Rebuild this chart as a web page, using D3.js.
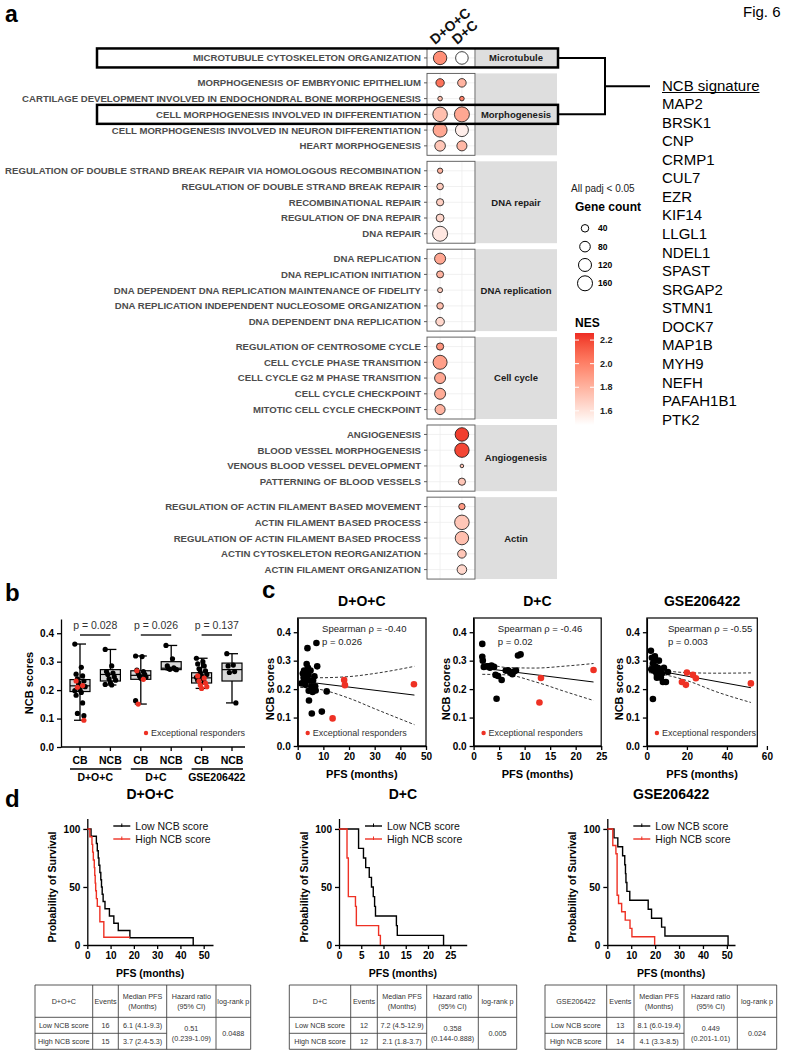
<!DOCTYPE html>
<html>
<head>
<meta charset="utf-8">
<script src="https://cdn.jsdelivr.net/npm/d3@7"></script>
<style>
  body { margin: 0; background: #fff; }
  svg text { font-family: "Liberation Sans", Arial, Helvetica, sans-serif; }
</style>
</head>
<body>
<svg id="fig" width="787" height="1050"></svg>
<script>
// ---------------- panel a data ----------------
const groups = ["D+O+C", "D+C"];
const clusters = ["Microtubule", "Morphogenesis", "DNA repair", "DNA replication", "Cell cycle", "Angiogenesis", "Actin"];
const termNames = [
  "MICROTUBULE CYTOSKELETON ORGANIZATION",
  "MORPHOGENESIS OF EMBRYONIC EPITHELIUM",
  "CARTILAGE DEVELOPMENT INVOLVED IN ENDOCHONDRAL BONE MORPHOGENESIS",
  "CELL MORPHOGENESIS INVOLVED IN DIFFERENTIATION",
  "CELL MORPHOGENESIS INVOLVED IN NEURON DIFFERENTIATION",
  "HEART MORPHOGENESIS",
  "REGULATION OF DOUBLE STRAND BREAK REPAIR VIA HOMOLOGOUS RECOMBINATION",
  "REGULATION OF DOUBLE STRAND BREAK REPAIR",
  "RECOMBINATIONAL REPAIR",
  "REGULATION OF DNA REPAIR",
  "DNA REPAIR",
  "DNA REPLICATION",
  "DNA REPLICATION INITIATION",
  "DNA DEPENDENT DNA REPLICATION MAINTENANCE OF FIDELITY",
  "DNA REPLICATION INDEPENDENT NUCLEOSOME ORGANIZATION",
  "DNA DEPENDENT DNA REPLICATION",
  "REGULATION OF CENTROSOME CYCLE",
  "CELL CYCLE PHASE TRANSITION",
  "CELL CYCLE G2 M PHASE TRANSITION",
  "CELL CYCLE CHECKPOINT",
  "MITOTIC CELL CYCLE CHECKPOINT",
  "ANGIOGENESIS",
  "BLOOD VESSEL MORPHOGENESIS",
  "VENOUS BLOOD VESSEL DEVELOPMENT",
  "PATTERNING OF BLOOD VESSELS",
  "REGULATION OF ACTIN FILAMENT BASED MOVEMENT",
  "ACTIN FILAMENT BASED PROCESS",
  "REGULATION OF ACTIN FILAMENT BASED PROCESS",
  "ACTIN CYTOSKELETON REORGANIZATION",
  "ACTIN FILAMENT ORGANIZATION"
];
const termCluster = [0, 1,1,1,1,1, 2,2,2,2,2, 3,3,3,3,3, 4,4,4,4,4, 5,5,5,5, 6,6,6,6,6];
const nesDOC = [1.95, 2.05,1.75,1.75,1.85,1.72, 1.8,1.7,1.68,1.65,1.58, 1.85,1.8,1.7,1.75,1.65, 1.92,1.88,1.85,1.83,1.8,
  null,null,null,null, null,null,null,null,null];
const countDOC = [128, 50,15,150,140,80, 20,31,37,45,160, 86,35,18,31,52, 37,140,86,86,72,
  null,null,null,null, null,null,null,null,null];
const nesDC = [1.48, 1.8,2.0,1.85,1.55,1.78, null,null,null,null,null, null,null,null,null,null, null,null,null,null,null,
  2.22,2.2,1.75,1.72, 1.9,1.72,1.75,1.72,1.65];
const countDC = [113, 52,15,160,120,72, null,null,null,null,null, null,null,null,null,null, null,null,null,null,null,
  131,147,9,37, 29,150,128,52,65];
const highlighted = ["MICROTUBULE CYTOSKELETON ORGANIZATION", "CELL MORPHOGENESIS INVOLVED IN DIFFERENTIATION"];
const sizeBreaks = [40, 80, 120, 160];
const nesBreaks = [1.6, 1.8, 2.0, 2.2];
const nesRange = [1.48, 2.26];
const ncbGenes = ["MAP2","BRSK1","CNP","CRMP1","CUL7","EZR","KIF14","LLGL1","NDEL1","SPAST","SRGAP2",
  "STMN1","DOCK7","MAP1B","MYH9","NEFH","PAFAH1B1","PTK2"];

// ---------------- panel b data ----------------
const boxLabels = ["CB","NCB","CB","NCB","CB","NCB"];
const boxGroups = ["D+O+C","D+C","GSE206422"];
const boxMin = [0.094, 0.218, 0.151, 0.272, 0.206, 0.155];
const boxQ1  = [0.195, 0.232, 0.238, 0.272, 0.225, 0.232];
const boxMed = [0.215, 0.255, 0.252, 0.277, 0.243, 0.272];
const boxQ3  = [0.237, 0.272, 0.268, 0.300, 0.261, 0.295];
const boxMax = [0.362, 0.343, 0.320, 0.357, 0.312, 0.328];
const boxBlack = [
  [0.362,0.28,0.256,0.25,0.24,0.232,0.22,0.212,0.204,0.198,0.192,0.182,0.155,0.118,0.11,0.226],
  [0.343,0.285,0.265,0.26,0.255,0.247,0.24,0.235,0.226,0.22,0.218],
  [0.32,0.318,0.27,0.265,0.26,0.255,0.25,0.246,0.242,0.163],
  [0.357,0.31,0.285,0.278,0.276,0.274,0.273,0.272],
  [0.312,0.3,0.292,0.285,0.275,0.268,0.262,0.255,0.25,0.245,0.24,0.235,0.228],
  [0.328,0.288,0.285,0.265,0.262,0.155]
];
const boxRed = [[0.232,0.216,0.21,0.094], [], [0.268,0.238,0.151], [], [0.25,0.242,0.232,0.225,0.218,0.212,0.206], []];
const boxP = ["p = 0.028", "p = 0.026", "p = 0.137"];

// ---------------- panel c data ----------------
const scatterNames = ["D+O+C", "D+C", "GSE206422"];
const scatterRho = ["Spearman \u03c1 = -0.40", "Spearman \u03c1 = -0.46", "Spearman \u03c1 = -0.55"];
const scatterP = ["p = 0.026", "p = 0.02", "p = 0.003"];
const scatterXMax = [50, 25, 55.2];
const scatterXTicks = [[0,10,20,30,40,50], [0,5,10,15,20,25], [0,20,40,60]];
const docBlack = [[1.5,0.22],[2,0.255],[2.3,0.24],[2.5,0.265],[2.8,0.232],[3,0.215],[3.3,0.26],[3.5,0.288],[3.8,0.344],
  [4,0.275],[4.2,0.25],[4.3,0.194],[4.4,0.16],[4.6,0.23],[5,0.265],[5.3,0.21],[5.5,0.114],[5.8,0.19],[6,0.23],
  [6.3,0.2],[6.8,0.21],[7,0.195],[7.3,0.362],[7.6,0.28],[9.4,0.121],[11.3,0.192],[6.5,0.245]];
const docRed = [[13.6,0.097],[18.1,0.232],[18.4,0.214],[45.3,0.217]];
const dcBlack = [[1.7,0.359],[1.7,0.314],[1.8,0.3],[2,0.278],[2.5,0.28],[3,0.28],[3.5,0.283],[4,0.278],[4.3,0.25],
  [4.5,0.166],[4.8,0.246],[5.5,0.232],[6.3,0.265],[6.8,0.265],[7.2,0.258],[7.6,0.252],[7.9,0.262],[8.3,0.265],
  [8.7,0.318],[9.2,0.322],[3.2,0.275]];
const dcRed = [[12.9,0.153],[13.2,0.239],[23.5,0.267]];
const gseBlack = [[2,0.335],[2.2,0.27],[2.5,0.31],[3,0.165],[3,0.29],[3.3,0.265],[3.6,0.3],[4,0.315],[4.2,0.28],
  [4.5,0.26],[5,0.25],[5,0.24],[5.5,0.275],[6,0.3],[6.5,0.265],[7,0.24],[7.5,0.255],[8,0.225],[8.5,0.275],
  [9.5,0.225],[10.5,0.26]];
const gseRed = [[17.5,0.225],[19.5,0.215],[20,0.258],[23,0.25],[24.5,0.238],[52,0.22]];
const scatterFit = [[[1,0.228],[45.5,0.179]], [[1.7,0.274],[23.5,0.225]], [[1,0.27],[52,0.205]]];
const scatterCI = [
  [[1,0.206,0.25],[8,0.2,0.24],[20,0.168,0.244],[30,0.131,0.255],[45.5,0.075,0.28]],
  [[1.7,0.252,0.296],[6.5,0.25,0.276],[12,0.226,0.274],[18,0.191,0.281],[23.5,0.16,0.29]],
  [[1,0.258,0.282],[9,0.25,0.266],[20,0.23,0.258],[35,0.19,0.256],[52,0.153,0.257]]
];

// ---------------- panel d data ----------------
const kmNames = ["D+O+C", "D+C", "GSE206422"];
const kmXMax = [54, 28.7, 53.4];
const kmXTicks = [[0,10,20,30,40,50], [0,5,10,15,20,25], [0,10,20,30,40,50]];
const kmLow = [
  [[0,100],[1.6,93.75],[3.9,87.5],[4.3,81.25],[4.7,75],[5,68.75],[5.4,62.5],[5.8,56.25],[6.1,50],[6.4,43.75],
   [6.8,37.5],[7.6,31.25],[9.5,25],[11.4,18.75],[13.3,12.5],[18.3,6.25],[45.5,0]],
  [[0,100],[4.4,83.3],[5.5,75],[6,66.7],[6.8,58.3],[7.3,50],[7.7,41.7],[8,33.3],[8.2,25],[12.9,16.7],[13.1,8.3],[23.5,0]],
  [[0,100],[2.8,92.3],[4.4,84.6],[6.4,76.9],[7.3,69.2],[7.6,61.5],[7.8,53.8],[8.2,46.2],[9.4,38.5],[17.1,30.8],
   [18.5,23.1],[22.7,15.4],[24.1,7.7],[50.5,0]]
];
const kmHigh = [
  [[0,100],[1.1,93.3],[2,86.7],[2.3,80],[2.6,73.3],[3,66.7],[3.2,60],[3.4,53.3],[3.6,46.7],[3.9,40],[4.3,33.3],
   [5.4,20],[7.1,6.67],[18.3,6.67]],
  [[0,100],[1.8,75],[2.1,41.7],[3.7,33.3],[3.9,16.7],[8.9,8.3],[9.3,0]],
  [[0,100],[2.3,85.7],[3.6,78.6],[4.1,42.9],[4.7,35.7],[6,28.6],[7.5,21.4],[9.5,14.3],[10.3,7.1],[19.8,0]]
];
const kmSeries = ["Low NCB score", "High NCB score"];
const tblEvents = [[16, 15], [12, 12], [13, 14]];
const tblMedian = [["6.1 (4.1-9.3)", "3.7 (2.4-5.3)"], ["7.2 (4.5-12.9)", "2.1 (1.8-3.7)"], ["8.1 (6.0-19.4)", "4.1 (3.3-8.5)"]];
const tblHR = ["0.51", "0.358", "0.449"];
const tblHRci = ["(0.239-1.09)", "(0.144-0.888)", "(0.201-1.01)"];
const tblLogrank = ["0.0488", "0.005", "0.024"];

// ======================================================
const FONT = '"Liberation Sans", Arial, Helvetica, sans-serif';
const RED = "#ee3124";
const svg = d3.select("#fig");

function label(txt, x, y, size, opts = {}) {
  return svg.append("text").attr("x", x).attr("y", y).text(txt)
    .attr("font-size", size).attr("font-weight", opts.bold ? "bold" : "normal")
    .attr("text-anchor", opts.anchor || "start").attr("fill", opts.fill || "#000");
}
function styleAxis(g, size) {
  g.attr("font-family", FONT).attr("font-size", size).attr("font-weight", "bold");
  g.select(".domain").attr("stroke", "#000").attr("stroke-width", 1.3);
  g.selectAll(".tick line").attr("stroke", "#000").attr("stroke-width", 1.3);
  g.selectAll(".tick text").attr("fill", "#000");
}

// panel letters
label("a", 5, 22, 23, {bold: true});
label("b", 5, 601, 24, {bold: true});
label("c", 262, 598, 24, {bold: true});
label("d", 5, 807, 24, {bold: true});
label("Fig. 6", 743, 17, 15);

// ---------------- panel a ----------------
const unit = 15.75, facetGap = 6;
let cursor = 48.5;
const facets = clusters.map((c, ci) => {
  const terms = termNames.filter((t, i) => termCluster[i] === ci);
  const h = unit * (terms.length + 0.2);
  const f = {name: c, terms, top: cursor, bottom: cursor + h};
  f.y = d3.scalePoint().domain(terms).range([f.top, f.bottom]).padding(0.6);
  cursor += h + facetGap;
  return f;
});
const xA = d3.scalePoint().domain(groups).range([427, 475]).padding(0.6);
const rA = d3.scaleSqrt().domain([0, 160]).range([0, 7.5]);
const colA = d3.scaleLinear().domain(nesRange).range(["#ffffff", "#ee2c24"])
  .interpolate(d3.interpolateLab).clamp(true);
const yOf = t => facets[termCluster[termNames.indexOf(t)]].y(t);

const gA = svg.append("g");
facets.forEach(f => {
  gA.append("rect").attr("x", 427).attr("y", f.top).attr("width", 48).attr("height", f.bottom - f.top)
    .attr("fill", "#fff");
  groups.forEach(g => gA.append("line").attr("x1", xA(g)).attr("x2", xA(g)).attr("y1", f.top).attr("y2", f.bottom)
    .attr("stroke", "#ebebeb").attr("stroke-width", 0.7));
  f.terms.forEach(t => {
    gA.append("line").attr("x1", 427).attr("x2", 475).attr("y1", f.y(t)).attr("y2", f.y(t))
      .attr("stroke", "#ebebeb").attr("stroke-width", 0.7);
    gA.append("line").attr("x1", 424).attr("x2", 427).attr("y1", f.y(t)).attr("y2", f.y(t))
      .attr("stroke", "#333").attr("stroke-width", 0.8);
    gA.append("text").attr("x", 421).attr("y", f.y(t) + 3.4).attr("text-anchor", "end")
      .attr("font-size", 9.6).attr("font-weight", "bold").attr("fill", "#4d4d4d").text(t);
  });
  gA.append("rect").attr("x", 475.5).attr("y", f.top).attr("width", 81.5).attr("height", f.bottom - f.top)
    .attr("fill", "#dedede");
  gA.append("text").attr("x", 516).attr("y", (f.top + f.bottom) / 2 + 3.4).attr("text-anchor", "middle")
    .attr("font-size", 9.5).attr("font-weight", "bold").attr("fill", "#1a1a1a").text(f.name);
});
// dots
const dotRows = [];
termNames.forEach((t, i) => {
  if (countDOC[i] != null) dotRows.push({t, g: groups[0], n: countDOC[i], nes: nesDOC[i]});
  if (countDC[i] != null) dotRows.push({t, g: groups[1], n: countDC[i], nes: nesDC[i]});
});
gA.selectAll("circle.dot").data(dotRows).join("circle").attr("class", "dot")
  .attr("cx", d => xA(d.g)).attr("cy", d => yOf(d.t)).attr("r", d => rA(d.n))
  .attr("fill", d => colA(d.nes)).attr("stroke", "#111").attr("stroke-width", 0.8);
facets.forEach(f => gA.append("rect").attr("x", 427).attr("y", f.top).attr("width", 48)
  .attr("height", f.bottom - f.top).attr("fill", "none").attr("stroke", "#555").attr("stroke-width", 0.9));
// column labels
groups.forEach(g => {
  gA.append("text").attr("transform", `translate(${xA(g) - 5},45) rotate(-40)`)
    .attr("font-size", 14).attr("font-weight", "bold").attr("fill", "#111").text(g);
});
// highlight boxes + bracket
highlighted.forEach(t => {
  gA.append("rect").attr("x", 97).attr("y", yOf(t) - 9.5).attr("width", 461).attr("height", 19)
    .attr("fill", "none").attr("stroke", "#000").attr("stroke-width", 2.5);
});
const yb0 = yOf(highlighted[0]), yb1 = yOf(highlighted[1]);
gA.append("path").attr("d", `M558,${yb0}H605V${yb1}H558M605,${(yb0 + yb1) / 2}H650`)
  .attr("fill", "none").attr("stroke", "#000").attr("stroke-width", 2);

// NCB signature list
const yList = d3.scaleLinear().domain([0, ncbGenes.length]).range([85, 85 + 18.57 * ncbGenes.length]);
const head = label("NCB signature", 662, yList(0) + 5.5, 15);
const headW = head.node().getComputedTextLength();
svg.append("line").attr("x1", 662).attr("x2", 662 + headW).attr("y1", yList(0) + 7.5).attr("y2", yList(0) + 7.5)
  .attr("stroke", "#000").attr("stroke-width", 1);
ncbGenes.forEach((gname, i) => label(gname, 662, yList(i + 1) + 5.5, 15));

// legends
label("All padj < 0.05", 571, 191.5, 10, {fill: "#222"});
label("Gene count", 575, 211, 12, {bold: true});
const ySize = d3.scalePoint().domain(sizeBreaks).range([228.3, 283.3]);
sizeBreaks.forEach(s => {
  svg.append("circle").attr("cx", 585).attr("cy", ySize(s)).attr("r", rA(s))
    .attr("fill", "#fff").attr("stroke", "#000").attr("stroke-width", 1);
  label(s, 598, ySize(s) + 3, 8.5, {bold: true});
});
label("NES", 575, 327, 12, {bold: true});
const yBar = d3.scaleLinear().domain(nesRange).range([425, 333]);
const grad = svg.append("defs").append("linearGradient").attr("id", "nesGrad")
  .attr("x1", 0).attr("y1", 1).attr("x2", 0).attr("y2", 0);
d3.range(0, 1.0001, 0.1).forEach(p => grad.append("stop").attr("offset", p)
  .attr("stop-color", colA(nesRange[0] + p * (nesRange[1] - nesRange[0]))));
svg.append("rect").attr("x", 575).attr("y", yBar(nesRange[1])).attr("width", 19)
  .attr("height", yBar(nesRange[0]) - yBar(nesRange[1])).attr("fill", "url(#nesGrad)");
nesBreaks.forEach(b => {
  svg.append("path").attr("d", `M575,${yBar(b)}h4M590,${yBar(b)}h4`).attr("stroke", "#fff").attr("stroke-width", 1);
  label(b.toFixed(1), 600, yBar(b) + 3.2, 9, {bold: true, fill: "#222"});
});

// ---------------- panel b ----------------
const yB = d3.scaleLinear().domain([0, 0.45]).range([747, 619]);
const xB = d3.scalePoint().domain(d3.range(boxLabels.length)).range([80, 232]);
const gB = svg.append("g");
const axB = gB.append("g").attr("transform", "translate(61,0)")
  .call(d3.axisLeft(yB).tickValues([0, 0.1, 0.2, 0.3, 0.4]).tickFormat(d3.format(".1f")).tickSize(4).tickSizeOuter(0));
styleAxis(axB, 10);
axB.selectAll(".tick text").attr("x", -7);
gB.append("line").attr("x1", 61).attr("x2", 245).attr("y1", 747).attr("y2", 747).attr("stroke", "#000").attr("stroke-width", 1.3);
boxLabels.forEach((lb, i) => {
  const x = xB(i);
  gB.append("line").attr("x1", x).attr("x2", x).attr("y1", 747).attr("y2", 751).attr("stroke", "#000").attr("stroke-width", 1.3);
  gB.append("text").attr("x", x).attr("y", 764).attr("text-anchor", "middle").attr("font-size", 10.5)
    .attr("font-weight", "bold").text(lb);
  // whiskers
  gB.append("line").attr("x1", x).attr("x2", x).attr("y1", yB(boxMin[i])).attr("y2", yB(boxMax[i]))
    .attr("stroke", "#000").attr("stroke-width", 1.3);
  [boxMin[i], boxMax[i]].forEach(v => gB.append("line").attr("x1", x - 6).attr("x2", x + 6)
    .attr("y1", yB(v)).attr("y2", yB(v)).attr("stroke", "#000").attr("stroke-width", 1.3));
  gB.append("rect").attr("x", x - 10).attr("y", yB(boxQ3[i])).attr("width", 20)
    .attr("height", yB(boxQ1[i]) - yB(boxQ3[i])).attr("fill", "#d9d9d9").attr("stroke", "#000").attr("stroke-width", 1.2);
  gB.append("line").attr("x1", x - 10).attr("x2", x + 10).attr("y1", yB(boxMed[i])).attr("y2", yB(boxMed[i]))
    .attr("stroke", "#000").attr("stroke-width", 1.2);
  const jit = k => ((k * 5) % 9 - 4) * 1.3;
  boxBlack[i].forEach((v, k) => gB.append("circle").attr("cx", x + jit(k)).attr("cy", yB(v)).attr("r", 2.6).attr("fill", "#000"));
  boxRed[i].forEach((v, k) => gB.append("circle").attr("cx", x + jit(k + 2)).attr("cy", yB(v)).attr("r", 2.6).attr("fill", RED));
});
boxGroups.forEach((g, j) => {
  const xa = xB(2 * j), xb = xB(2 * j + 1);
  gB.append("line").attr("x1", xa - 10).attr("x2", xb + 11).attr("y1", 769).attr("y2", 769).attr("stroke", "#000").attr("stroke-width", 1.3);
  gB.append("text").attr("x", (xa + xb) / 2).attr("y", 781).attr("text-anchor", "middle").attr("font-size", 10.5)
    .attr("font-weight", "bold").text(g);
  gB.append("line").attr("x1", xa).attr("x2", xb).attr("y1", 635).attr("y2", 635).attr("stroke", "#000").attr("stroke-width", 1.3);
  gB.append("text").attr("x", (xa + xb) / 2).attr("y", 628.5).attr("text-anchor", "middle").attr("font-size", 10.5)
    .attr("fill", "#333").text(boxP[j]);
});
gB.append("text").attr("transform", `translate(33,683) rotate(-90)`).attr("text-anchor", "middle")
  .attr("font-size", 11).attr("font-weight", "bold").text("NCB scores");
gB.append("circle").attr("cx", 146).attr("cy", 733).attr("r", 2.2).attr("fill", RED);
gB.append("text").attr("x", 151).attr("y", 736.3).attr("font-size", 9).attr("fill", "#333").text("Exceptional responders");

// ---------------- panel c ----------------
const cRanges = [[297.7, 426], [473.6, 601.2], [646.9, 757.3]];
const cBlack = [docBlack, dcBlack, gseBlack];
const cRed = [docRed, dcRed, gseRed];
const yC = d3.scaleLinear().domain([0, 0.45]).range([746, 618]);
scatterNames.forEach((name, k) => {
  const [x0, x1] = cRanges[k];
  const x = d3.scaleLinear().domain([0, scatterXMax[k]]).range([x0, x1]);
  const g = svg.append("g");
  g.append("rect").attr("x", x0).attr("y", yC(0.45)).attr("width", x1 - x0).attr("height", yC(0) - yC(0.45))
    .attr("fill", "none").attr("stroke", "#000").attr("stroke-width", 1.2);
  const ay = g.append("g").attr("transform", `translate(${x0},0)`)
    .call(d3.axisLeft(yC).tickValues([0, 0.1, 0.2, 0.3, 0.4]).tickFormat(d3.format(".1f")).tickSize(4).tickSizeOuter(0));
  styleAxis(ay, 10);
  const ax = g.append("g").attr("transform", `translate(0,${yC(0)})`)
    .call(d3.axisBottom(x).tickValues(scatterXTicks[k]).tickSize(4).tickSizeOuter(0));
  styleAxis(ax, 10);
  // fit + confidence band
  const ci = scatterCI[k];
  const ln = d3.line().x(d => x(d[0])).y(d => yC(d[1])).curve(d3.curveMonotoneX);
  g.append("path").attr("d", ln(ci.map(d => [d[0], d[1]]))).attr("fill", "none").attr("stroke", "#333")
    .attr("stroke-width", 1).attr("stroke-dasharray", "3,2");
  g.append("path").attr("d", ln(ci.map(d => [d[0], d[2]]))).attr("fill", "none").attr("stroke", "#333")
    .attr("stroke-width", 1).attr("stroke-dasharray", "3,2");
  g.append("path").attr("d", d3.line().x(d => x(d[0])).y(d => yC(d[1]))(scatterFit[k]))
    .attr("fill", "none").attr("stroke", "#000").attr("stroke-width", 1);
  cBlack[k].forEach(p => g.append("circle").attr("cx", x(p[0])).attr("cy", yC(p[1])).attr("r", 3.3).attr("fill", "#000"));
  cRed[k].forEach(p => g.append("circle").attr("cx", x(p[0])).attr("cy", yC(p[1])).attr("r", 3.3).attr("fill", RED));
  // texts
  const cx = (x0 + x1) / 2;
  const tx = x0 + (x1 - x0) * 0.19;
  g.append("text").attr("x", cx).attr("y", 606).attr("text-anchor", "middle").attr("font-size", 14)
    .attr("font-weight", "bold").text(name);
  g.append("text").attr("x", tx).attr("y", 632).attr("font-size", 9.5).attr("fill", "#222").text(scatterRho[k]);
  g.append("text").attr("x", tx).attr("y", 645).attr("font-size", 9.5).attr("fill", "#222").text(scatterP[k]);
  g.append("circle").attr("cx", x0 + 10).attr("cy", 733).attr("r", 2.2).attr("fill", RED);
  g.append("text").attr("x", x0 + 15).attr("y", 736.3).attr("font-size", 9).attr("fill", "#333").text("Exceptional responders");
  g.append("text").attr("x", cx).attr("y", 778).attr("text-anchor", "middle").attr("font-size", 11)
    .attr("font-weight", "bold").text("PFS (months)");
  g.append("text").attr("transform", `translate(${x0 - 24},${yC(0.2)}) rotate(-90)`).attr("text-anchor", "middle")
    .attr("font-size", 11).attr("font-weight", "bold").text("NCB scores");
});

// ---------------- panel d ----------------
const dRanges = [[87.3, 213], [339, 466.7], [607.3, 735]];
const tblCols = [[35, 92.7, 118.3, 166.7, 216, 250.7], [289.3, 350.7, 377.3, 426.7, 478.3, 516.7], [545, 606.7, 634, 684, 737.3, 776.7]];
const tblRows = [985, 1017.3, 1033.3, 1049.3];
const yD = d3.scaleLinear().domain([0, 109]).range([945, 818.5]);
kmNames.forEach((name, k) => {
  const [x0, x1] = dRanges[k];
  const x = d3.scaleLinear().domain([0, kmXMax[k]]).range([x0, x1]);
  const g = svg.append("g");
  const ay = g.append("g").attr("transform", `translate(${x0},0)`)
    .call(d3.axisLeft(yD).tickValues([0, 50, 100]).tickSize(4).tickSizeOuter(0));
  styleAxis(ay, 10);
  const ax = g.append("g").attr("transform", `translate(0,${yD(0)})`)
    .call(d3.axisBottom(x).tickValues(kmXTicks[k]).tickSize(4).tickSizeOuter(0));
  styleAxis(ax, 10);
  const step = d3.line().x(d => x(d[0])).y(d => yD(d[1])).curve(d3.curveStepAfter);
  g.append("path").attr("d", step(kmLow[k])).attr("fill", "none").attr("stroke", "#000").attr("stroke-width", 1.4);
  g.append("path").attr("d", step(kmHigh[k])).attr("fill", "none").attr("stroke", RED).attr("stroke-width", 1.4);
  // legend
  kmSeries.forEach((s, j) => {
    const ly = 826 + j * 13;
    const col = j === 0 ? "#000" : RED;
    g.append("line").attr("x1", x0 + 26).attr("x2", x0 + 43).attr("y1", ly).attr("y2", ly).attr("stroke", col).attr("stroke-width", 1.4);
    g.append("line").attr("x1", x0 + 34.5).attr("x2", x0 + 34.5).attr("y1", ly - 2.5).attr("y2", ly + 1).attr("stroke", col).attr("stroke-width", 1);
    g.append("text").attr("x", x0 + 48).attr("y", ly + 3.6).attr("font-size", 10.5).attr("fill", "#111").text(s);
  });
  const cx = (x0 + x1) / 2;
  g.append("text").attr("x", cx).attr("y", 799).attr("text-anchor", "middle").attr("font-size", 14)
    .attr("font-weight", "bold").text(name);
  g.append("text").attr("x", cx).attr("y", 977).attr("text-anchor", "middle").attr("font-size", 10.5)
    .attr("font-weight", "bold").text("PFS (months)");
  g.append("text").attr("transform", `translate(${x0 - 31},${yD(50)}) rotate(-90)`).attr("text-anchor", "middle")
    .attr("font-size", 10.5).attr("font-weight", "bold").text("Probability of Survival");

  // table
  const c = tblCols[k], r = tblRows;
  const tb = svg.append("g").attr("font-size", 7.2).attr("fill", "#333");
  const ln = (xa, ya, xb, yb) => tb.append("line").attr("x1", xa).attr("y1", ya).attr("x2", xb).attr("y2", yb)
    .attr("stroke", "#444").attr("stroke-width", 0.9);
  ln(c[0], r[0], c[5], r[0]); ln(c[0], r[1], c[5], r[1]); ln(c[0], r[2], c[3], r[2]); ln(c[0], r[3], c[5], r[3]);
  c.forEach(xx => ln(xx, r[0], xx, r[3]));
  const cell = (txt, ci, yy) => tb.append("text").attr("x", (c[ci] + c[ci + 1]) / 2).attr("y", yy)
    .attr("text-anchor", "middle").text(txt);
  const hm = (r[0] + r[1]) / 2;
  cell(name, 0, hm + 2.5); cell("Events", 1, hm + 2.5);
  cell("Median PFS", 2, hm - 2.5); cell("(Months)", 2, hm + 7.5);
  cell("Hazard ratio", 3, hm - 2.5); cell("(95% CI)", 3, hm + 7.5);
  cell("log-rank p", 4, hm + 2.5);
  kmSeries.forEach((s, j) => {
    const ym = (r[1 + j] + r[2 + j]) / 2 + 2.5;
    cell(s, 0, ym); cell(tblEvents[k][j], 1, ym); cell(tblMedian[k][j], 2, ym);
  });
  cell(tblHR[k], 3, r[2] - 2); cell(tblHRci[k], 3, r[2] + 8);
  cell(tblLogrank[k], 4, r[2] + 2.5);
});
</script>
</body>
</html>
